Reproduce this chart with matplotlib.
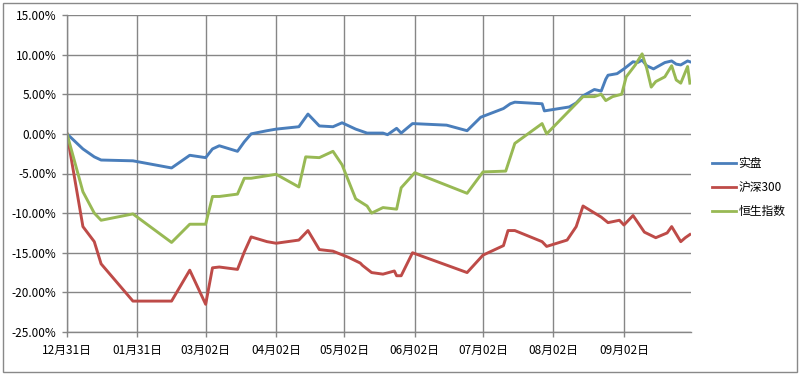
import matplotlib
matplotlib.use("Agg")
import matplotlib.pyplot as plt
from matplotlib.patches import Rectangle
from matplotlib.ticker import FuncFormatter, MultipleLocator

plt.rcParams['font.family'] = ['Noto Sans CJK SC', 'DejaVu Sans']

# x = days since 12月31日
tick_days = [0, 31, 61, 92, 122, 153, 183, 214, 245]
tick_labels = ["12月31日", "01月31日", "03月02日", "04月02日", "05月02日",
               "06月02日", "07月02日", "08月02日", "09月02日"]

shipan_days = [0, 7, 12, 15, 29, 46, 54, 61, 64, 67, 75, 78, 81, 88, 92, 102, 106,
               111, 117, 121, 127, 132, 139, 141, 145, 147, 152, 167, 176, 182, 192,
               195, 197, 209, 210, 221, 224, 227, 232, 235, 237, 238, 242, 245, 249,
               251, 253, 255, 258, 263, 266, 268, 270, 273, 274]
shipan_vals = [0, -1.9, -2.9, -3.3, -3.4, -4.3, -2.7, -3.0, -1.9, -1.5, -2.2, -1.0, 0.0,
               0.4, 0.6, 0.9, 2.5, 1.0, 0.9, 1.4, 0.6, 0.1, 0.1, -0.1, 0.7, 0.1, 1.3,
               1.1, 0.4, 2.1, 3.2, 3.8, 4.0, 3.8, 2.9, 3.4, 3.9, 4.8, 5.6, 5.4, 6.9,
               7.4, 7.6, 8.2, 9.1, 9.0, 9.3, 8.6, 8.2, 9.0, 9.2, 8.8, 8.7, 9.2, 9.1]

hs300_days = [0, 7, 12, 15, 29, 46, 54, 61, 64, 67, 75, 78, 81, 88, 92, 102, 106,
              111, 117, 124, 129, 130, 134, 139, 144, 145, 147, 152, 176, 183, 192,
              194, 197, 209, 211, 220, 224, 227, 235, 238, 243, 245, 249, 254, 259,
              264, 266, 270, 272, 274]
hs300_vals = [0, -11.7, -13.6, -16.4, -21.1, -21.1, -17.2, -21.5, -16.9, -16.8, -17.1,
              -14.9, -13.0, -13.6, -13.8, -13.4, -12.2, -14.6, -14.8, -15.6, -16.3,
              -16.6, -17.5, -17.7, -17.3, -17.9, -17.9, -15.0, -17.5, -15.3, -14.1,
              -12.2, -12.2, -13.6, -14.2, -13.4, -11.7, -9.1, -10.5, -11.2, -10.9,
              -11.5, -10.3, -12.4, -13.1, -12.5, -11.7, -13.6, -13.1, -12.7]

hsi_days = [0, 7, 12, 15, 29, 46, 54, 61, 64, 67, 75, 78, 81, 92, 102, 105, 111, 117,
            121, 127, 132, 134, 139, 145, 147, 153, 176, 183, 193, 197, 209, 211, 227,
            232, 235, 237, 240, 244, 246, 250, 253, 255, 257, 259, 263, 266, 268, 270,
            272, 273, 274]
hsi_vals = [0, -7.3, -10.0, -10.9, -10.1, -13.7, -11.4, -11.4, -7.9, -7.9, -7.6, -5.6,
            -5.6, -5.1, -6.7, -2.9, -3.0, -2.2, -3.9, -8.2, -9.1, -10.0, -9.3, -9.5,
            -6.8, -4.9, -7.5, -4.8, -4.7, -1.2, 1.3, 0.0, 4.7, 4.7, 5.0, 4.2, 4.7, 5.0,
            7.2, 8.7, 10.1, 8.3, 5.9, 6.6, 7.2, 8.6, 6.8, 6.4, 7.8, 8.5, 6.4]

series = [("实盘", shipan_days, shipan_vals, "#4A7EBB"),
          ("沪深300", hs300_days, hs300_vals, "#BE4B48"),
          ("恒生指数", hsi_days, hsi_vals, "#98B954")]

fig = plt.figure(figsize=(8, 3.75), dpi=100)
ax = fig.add_axes([67/800, 1-332/375, (691-67)/800, (332-15)/375])

for name, d, v, c in series:
    ax.plot(d, v, color=c, lw=2.1, label=name, solid_joinstyle='round')

ax.set_xlim(0, 274.5)
ax.set_ylim(-25, 15)
ax.yaxis.set_major_locator(MultipleLocator(5))
ax.yaxis.set_major_formatter(FuncFormatter(lambda v, p: f"{v:.2f}%"))
ax.set_xticks(tick_days)
ax.set_xticklabels(tick_labels)

gc = "#868686"
ax.grid(True, color=gc, lw=1.0)
ax.set_axisbelow(True)
for s in ["top", "right"]:
    ax.spines[s].set_visible(False)
for s in ["left", "bottom"]:
    ax.spines[s].set_color(gc)
    ax.spines[s].set_linewidth(1.0)
ax.tick_params(axis='both', colors=gc, length=3.5, width=1.0, labelsize=8.5,
               labelcolor='black')
ax.tick_params(axis='x', pad=5)
ax.tick_params(axis='y', pad=4)

leg = ax.legend(loc='center left', bbox_to_anchor=(1.016, 0.455), frameon=False,
                fontsize=8.5, handlelength=2.1, handletextpad=0.15, labelspacing=0.95)
for l in leg.get_lines():
    l.set_linewidth(2.0)

fig.patches.append(Rectangle((3/800, 3/375), 794/800, 369/375, transform=fig.transFigure,
                             fill=False, edgecolor="#898989", lw=1.0))

fig.savefig("out.png", dpi=100)
